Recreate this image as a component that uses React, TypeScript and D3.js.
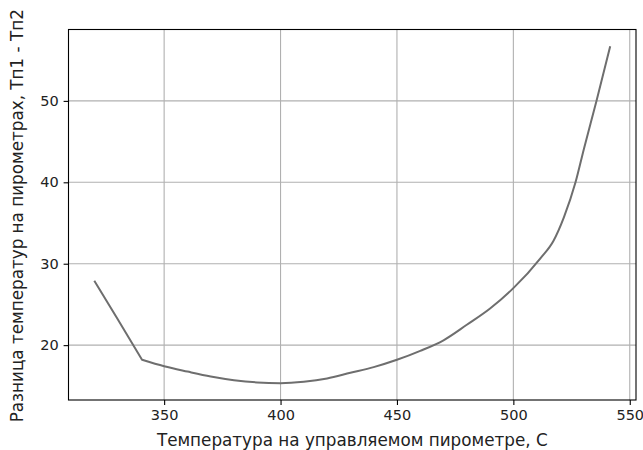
import React, { useEffect, useRef } from 'react';
import * as d3 from 'd3';

// values
const tempControlled = [
  320, 330, 340.5, 350, 360, 370, 380, 390, 400, 410, 420, 430, 440, 450, 460, 470, 480, 490, 500,
  511.7, 517.2, 521.7, 526.7, 530.3, 535.7, 541.6,
];
const tempDiff = [
  27.9, 23.2, 18.2, 17.4, 16.75, 16.15, 15.7, 15.42, 15.33, 15.5, 15.9, 16.6, 17.3, 18.2, 19.3,
  20.6, 22.5, 24.5, 27.0, 30.7, 32.8, 35.7, 40.0, 44.1, 50.0, 56.7,
];
const xTicks = [350, 400, 450, 500, 550];
const yTicks = [20, 30, 40, 50];

const xLabel = 'Температура на управляемом пирометре, С';
const yLabel = 'Разница температур на пирометрах, Тп1 - Тп2';

const App = () => {
  const svgRef = useRef<SVGSVGElement>(null);

  useEffect(() => {
    const width = 643;
    const height = 450;
    const margin = { left: 68.5, right: 7, top: 29.5, bottom: 50 };
    const font = '"DejaVu Sans", sans-serif';

    const svg = d3.select(svgRef.current);
    svg.selectAll('*').remove();
    svg.attr('width', width).attr('height', height);

    const data = tempControlled.map((t, i) => ({ t, d: tempDiff[i] }));

    // matplotlib-style 5% margins
    const xMin = d3.min(tempControlled) as number;
    const xMax = d3.max(tempControlled) as number;
    const yMin = d3.min(tempDiff) as number;
    const yMax = d3.max(tempDiff) as number;
    const xPad = (xMax - xMin) * 0.05;
    const yPad = (yMax - yMin) * 0.05;

    const x = d3
      .scaleLinear()
      .domain([xMin - xPad, xMax + xPad])
      .range([margin.left, width - margin.right]);
    const y = d3
      .scaleLinear()
      .domain([yMin - yPad, yMax + yPad])
      .range([height - margin.bottom, margin.top]);

    const g = svg.append('g');

    // grid
    g.append('g')
      .selectAll('line')
      .data(xTicks)
      .enter()
      .append('line')
      .attr('x1', (d) => x(d))
      .attr('x2', (d) => x(d))
      .attr('y1', margin.top)
      .attr('y2', height - margin.bottom)
      .attr('stroke', '#b0b0b0')
      .attr('stroke-width', 1.1);
    g.append('g')
      .selectAll('line')
      .data(yTicks)
      .enter()
      .append('line')
      .attr('x1', margin.left)
      .attr('x2', width - margin.right)
      .attr('y1', (d) => y(d))
      .attr('y2', (d) => y(d))
      .attr('stroke', '#b0b0b0')
      .attr('stroke-width', 1.1);

    // curve: straight lead-in down to the kink, smooth afterwards
    const straight = d3
      .line<{ t: number; d: number }>()
      .x((d) => x(d.t))
      .y((d) => y(d.d));
    const smooth = d3
      .line<{ t: number; d: number }>()
      .x((d) => x(d.t))
      .y((d) => y(d.d))
      .curve(d3.curveMonotoneX);
    const pathD = (straight(data.slice(0, 3)) as string) + (smooth(data.slice(2)) as string).replace(/^M/, 'L');
    g.append('path')
      .attr('d', pathD)
      .attr('fill', 'none')
      .attr('stroke', '#6e6e6e')
      .attr('stroke-width', 2)
      .attr('stroke-linejoin', 'round');

    // axes
    const xAxis = d3.axisBottom(x).tickValues(xTicks).tickSize(4.9).tickPadding(4.9);
    const xg = g
      .append('g')
      .attr('transform', `translate(0, ${height - margin.bottom})`)
      .call(xAxis);
    const yAxis = d3.axisLeft(y).tickValues(yTicks).tickSize(4.9).tickPadding(4.9);
    const yg = g.append('g').attr('transform', `translate(${margin.left}, 0)`).call(yAxis);
    [xg, yg].forEach((a) => {
      a.select('.domain').remove();
      a.selectAll('line').attr('stroke', '#000').attr('stroke-width', 1.1);
      a.selectAll('text')
        .attr('font-family', font)
        .attr('font-size', '14.5px')
        .attr('fill', '#222');
    });

    // frame
    g.append('rect')
      .attr('x', margin.left)
      .attr('y', margin.top)
      .attr('width', width - margin.left - margin.right)
      .attr('height', height - margin.top - margin.bottom)
      .attr('fill', 'none')
      .attr('stroke', '#000')
      .attr('stroke-width', 1.1);

    // x label
    g.append('text')
      .attr('x', (margin.left + width - margin.right) / 2)
      .attr('y', height - 4.5)
      .attr('text-anchor', 'middle')
      .attr('font-family', font)
      .attr('font-size', '16.8px')
      .attr('fill', '#222')
      .text(xLabel);

    // y label
    g.append('text')
      .attr('transform', `translate(23, ${(margin.top + height - margin.bottom) / 2 + 1}) rotate(-90)`)
      .attr('text-anchor', 'middle')
      .attr('font-family', font)
      .attr('font-size', '16.8px')
      .attr('fill', '#222')
      .text(yLabel);
  }, []);

  return (
    <div style={{ position: 'absolute', left: 0, top: 0 }}>
      <svg ref={svgRef} style={{ display: 'block', background: '#fff' }}></svg>
    </div>
  );
};

export default App;
